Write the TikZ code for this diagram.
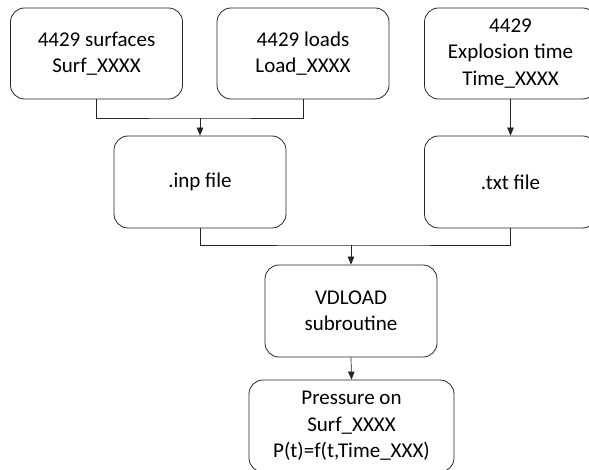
\documentclass[tikz,border=0pt]{standalone}
\usepackage{fontspec}
\setmainfont{Carlito}
\usetikzlibrary{arrows.meta}
\begin{document}
\begin{tikzpicture}[x=1pt,y=-1pt,
  box/.style={draw=black!85,line width=0.8pt,rounded corners=14pt,minimum width=172pt,minimum height=91pt,inner sep=0pt,align=center,font=\fontsize{21}{26.5}\selectfont,text=black},
  conn/.style={draw=black!85,line width=0.7pt},
  arr/.style={conn,-{Triangle[width=6.5pt,length=8pt]}}]
\useasboundingbox (0,0) rectangle (589,470);
\clip (0,0) rectangle (589,470);
\fill[white] (0,0) rectangle (589,470);
\node[box] (surf) at (96.5,53.5) {4429 surfaces\\Surf\_XXXX};
\node[box] (load) at (303,53.5) {4429 loads\\Load\_XXXX};
\node[box] (expl) at (510.5,53.5) {4429\\Explosion time\\Time\_XXXX};
\node[box,minimum height=92pt] (inp) at (200,182) {.inp file};
\node[box,minimum height=92pt] (txt) at (510.5,182) {.txt file};
\node[box,minimum height=92pt] (vd) at (351,311) {VDLOAD\\subroutine};
\node[box,minimum width=205pt,minimum height=92pt] (pr) at (351.5,426) {Pressure on\\Surf\_XXXX\\P(t)=f(t,Time\_XXX)};
\coordinate (j1) at (200,118);
\coordinate (j2) at (351,245);
\draw[conn] (surf.south) |- (j1) -| (load.south);
\draw[arr] (j1) -- (inp.north);
\draw[arr] (expl.south) -- (txt.north);
\draw[conn] (inp.south) |- (j2) -| (txt.south);
\draw[arr] (j2) -- (vd.north);
\draw[arr] (vd.south) -- (pr.north);
\end{tikzpicture}
\end{document}
